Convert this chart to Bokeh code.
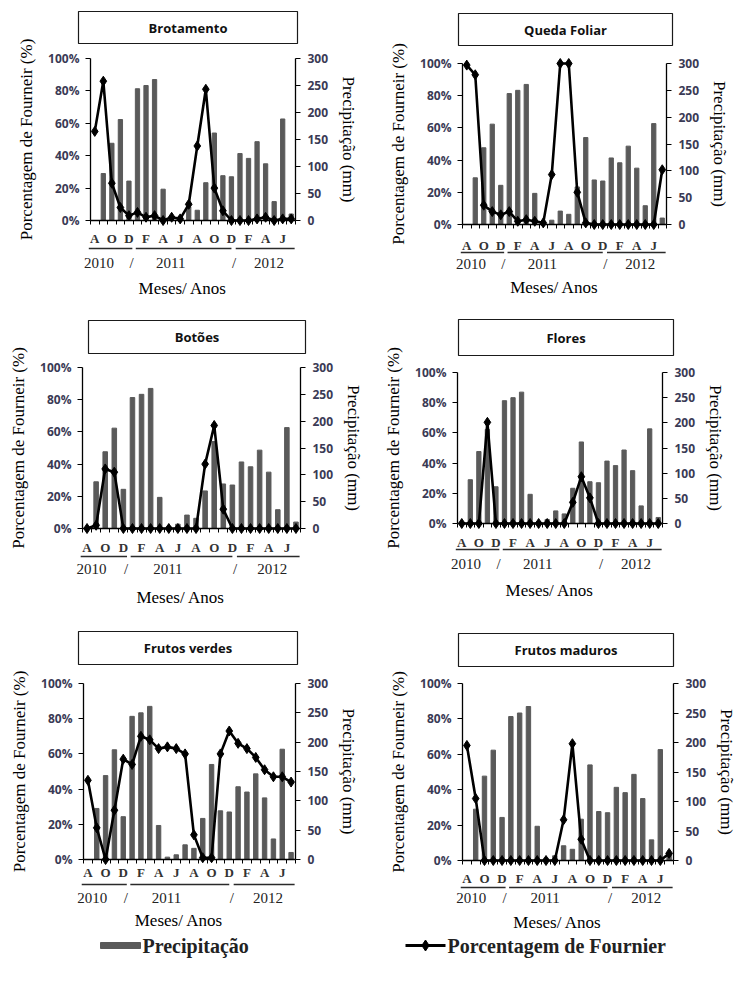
from bokeh.plotting import figure
from bokeh.models import Range1d, LinearAxis, FixedTicker, BoxAnnotation, Label
from bokeh.layouts import column, row
from bokeh.core.properties import value
from bokeh.embed import file_html
from bokeh.resources import INLINE

# ---------------- data ----------------
month_letters = ["A", "S", "O", "N", "D", "J", "F", "M", "A", "M", "J", "J",
                 "A", "S", "O", "N", "D", "J", "F", "M", "A", "M", "J", "J"]
months = list(range(len(month_letters)))

precipitacao = [0, 87, 143, 187, 73, 244, 250, 261, 58, 4, 8, 25,
                19, 70, 162, 83, 81, 124, 115, 146, 105, 35, 188, 12]

brotamento = [55, 86, 23, 8, 3, 5, 2, 3, 0, 2, 1, 10,
              46, 81, 20, 6, 0, 0, 0, 1, 2, 0, 1, 1]
queda_foliar = [99, 93, 12, 8, 6, 8, 2, 3, 2, 1, 31, 100,
                100, 20, 1, 0, 0, 0, 0, 0, 0, 0, 0, 34]
botoes = [0, 2, 37, 35, 0, 0, 0, 0, 0, 0, 0, 0,
          0, 40, 64, 12, 0, 0, 0, 0, 0, 0, 0, 0]
flores = [0, 0, 0, 67, 0, 0, 0, 0, 0, 0, 0, 0,
          0, 14, 31, 17, 0, 0, 0, 0, 0, 0, 0, 0]
frutos_verdes = [45, 18, 0, 28, 57, 54, 70, 68, 63, 64, 63, 60,
                 14, 1, 1, 60, 73, 66, 63, 58, 51, 47, 47, 44]
frutos_maduros = [65, 35, 0, 0, 0, 0, 0, 0, 0, 0, 0, 23,
                  66, 12, 0, 0, 0, 0, 0, 0, 0, 0, 0, 4]

year_labels = ["2010", "/", "2011", "/", "2012"]
year_label_pos = [0.5, 4.3, 8.9, 16.3, 20.4]
year_underlines = [(-0.7, 4.4), (4.8, 16.0), (16.5, 23.4)]

pct_ticks = [0, 20, 40, 60, 80, 100]
pct_labels = ["0%", "20%", "40%", "60%", "80%", "100%"]
mm_ticks = [0, 50, 100, 150, 200, 250, 300]

legend_labels = ["Precipitação", "Porcentagem de Fournier"]

# ---------------- styling / layout ----------------
BAR_COLOR = "#5a5a5a"
TICK_COLOR = "#3a3a55"
SERIF = "Liberation Serif"
SANS = "Open Sans"

# page-pixel geometry: figure origin/size (x, y, w, h),
# axis extents (left, right, top=100%, bottom=0%), title box, vertical offsets below the x axis
panels = [
    ("Brotamento", brotamento,
     dict(fig=(0, 0, 374, 310), axes=(90, 295, 58, 220), box=(78, 11, 297, 43),
          m=18, ul=28, yr=42, ms=68)),
    ("Queda Foliar", queda_foliar,
     dict(fig=(374, 0, 375, 310), axes=(462, 666, 63, 224), box=(458, 13, 672, 45),
          m=21, ul=28, yr=39, ms=63)),
    ("Botões", botoes,
     dict(fig=(0, 310, 374, 315), axes=(82, 300, 367, 528), box=(88, 320, 305, 353),
          m=19, ul=28, yr=40, ms=69)),
    ("Flores", flores,
     dict(fig=(374, 310, 375, 315), axes=(457, 662, 372, 523), box=(458, 319, 673, 355),
          m=19, ul=26, yr=40, ms=67)),
    ("Frutos verdes", frutos_verdes,
     dict(fig=(0, 625, 374, 309), axes=(83, 295, 683, 859), box=(78, 631, 297, 664),
          m=13, ul=25, yr=38, ms=61)),
    ("Frutos maduros", frutos_maduros,
     dict(fig=(374, 625, 375, 309), axes=(462, 673, 683, 860), box=(458, 633, 673, 666),
          m=18, ul=27, yr=37, ms=62)),
]


def make_panel(title, values, cfg):
    ox, oy, fw, fh = cfg["fig"]
    axl, axr, axt, axb = cfg["axes"]
    n = len(months)
    ppx = (axr - axl) / n            # px per month
    ppu = (axb - axt) / 100.0        # px per percent
    x0 = -0.5 - (axl - ox) / ppx
    x1 = x0 + fw / ppx
    y0 = -(oy + fh - axb) / ppu
    y1 = 100 + (axt - oy) / ppu

    def xd(px):
        return -0.5 + (px - axl) / ppx

    def yd(py):
        return (axb - py) / ppu

    p = figure(frame_width=fw, frame_height=fh,
               x_range=Range1d(x0, x1), y_range=Range1d(y0, y1),
               min_border=0, min_border_left=0, min_border_right=0,
               min_border_top=0, min_border_bottom=0,
               output_backend="svg", toolbar_location=None,
               outline_line_color=None, background_fill_color="white",
               border_fill_color="white")
    p.extra_y_ranges = {"mm": Range1d(3 * y0, 3 * y1)}
    p.grid.visible = False

    # bars (precipitation, right axis)
    p.vbar(x=months, top=precipitacao, width=0.5, y_range_name="mm",
           fill_color=BAR_COLOR, line_color=BAR_COLOR)
    # Fournier line
    p.line(months, values, line_color="black", line_width=2.6)
    p.scatter(months, values, marker="diamond", size=10,
              fill_color="black", line_color="black")

    # x axis (months)
    xa = p.xaxis[0]
    xa.fixed_location = 0
    xa.bounds = (-0.5, n - 0.5)
    xa.ticker = FixedTicker(ticks=months, minor_ticks=[i - 0.5 for i in range(n + 1)])
    xa.major_label_overrides = {i: (month_letters[i] if i % 2 == 0 else "") for i in months}
    xa.major_tick_out = 0
    xa.major_tick_in = 0
    xa.minor_tick_out = 4
    xa.minor_tick_in = 0
    xa.minor_tick_line_color = "black"
    xa.axis_line_color = "black"
    xa.axis_line_width = 1.3
    xa.major_label_text_font = SERIF
    xa.major_label_text_font_style = "bold"
    xa.major_label_text_font_size = "13px"
    xa.major_label_text_color = "#333333"
    xa.major_label_standoff = max(int(round(cfg["m"] - 12)), 0)

    # left axis (percent)
    ya = p.yaxis[0]
    ya.fixed_location = -0.5
    ya.ticker = FixedTicker(ticks=pct_ticks, minor_ticks=[])
    ya.major_label_overrides = dict(zip(pct_ticks, pct_labels))
    ya.bounds = (0, 100)
    ya.axis_line_color = "black"
    ya.axis_line_width = 1.3
    ya.major_tick_out = 5
    ya.major_tick_in = 0
    ya.major_tick_line_color = "black"
    ya.major_label_text_font = SANS
    ya.major_label_text_font_style = "bold"
    ya.major_label_text_font_size = "12px"
    ya.major_label_text_color = TICK_COLOR
    ya.major_label_standoff = 6
    ya.axis_label = "Porcentagem de Fourneir (%)"
    ya.axis_label_text_font = SERIF
    ya.axis_label_text_font_style = "normal"
    ya.axis_label_text_font_size = "17px"
    ya.axis_label_text_color = "black"
    ya.axis_label_standoff = 9

    # right axis (precipitation)
    ra = LinearAxis(y_range_name="mm", ticker=FixedTicker(ticks=mm_ticks, minor_ticks=[]),
                    bounds=(0, 300), fixed_location=n - 0.5)
    ra.axis_line_color = "black"
    ra.axis_line_width = 1.3
    ra.major_tick_out = 5
    ra.major_tick_in = 0
    ra.major_tick_line_color = "black"
    ra.major_label_text_font = SANS
    ra.major_label_text_font_style = "bold"
    ra.major_label_text_font_size = "12px"
    ra.major_label_text_color = TICK_COLOR
    ra.major_label_standoff = 7
    ra.axis_label = "Precipitação (mm)"
    ra.axis_label_text_font = SERIF
    ra.axis_label_text_font_style = "normal"
    ra.axis_label_text_font_size = "17px"
    ra.axis_label_text_color = "black"
    ra.axis_label_standoff = 8
    p.add_layout(ra, "right")

    # title box
    bx0, by0, bx1, by1 = cfg["box"]
    p.add_layout(BoxAnnotation(left=xd(bx0), right=xd(bx1), top=yd(by0), bottom=yd(by1),
                               fill_color="white", fill_alpha=1.0,
                               line_color="#1a1a1a", line_alpha=1.0, line_width=1.2))
    p.add_layout(Label(x=xd((bx0 + bx1) / 2), y=yd((by0 + by1) / 2), text=title,
                       text_font=SANS, text_font_style="bold", text_font_size="13px",
                       text_color="#111111", text_align="center", text_baseline="middle"))

    # year group underlines
    yul = yd(axb + cfg["ul"])
    hh = 0.7 / ppu
    for (a, b) in year_underlines:
        p.add_layout(BoxAnnotation(left=a, right=b, top=yul + hh, bottom=yul - hh,
                                   fill_color="#2a2a2a", fill_alpha=1.0, line_alpha=0.0))
    # year labels
    for lab, pos in zip(year_labels, year_label_pos):
        p.add_layout(Label(x=pos, y=yd(axb + cfg["yr"]), text=lab,
                           text_font=SERIF, text_font_size="15px", text_color="#222222",
                           text_align="center", text_baseline="middle"))
    # x axis title
    p.add_layout(Label(x=10.3, y=yd(axb + cfg["ms"]), text="Meses/ Anos",
                       text_font=SERIF, text_font_size="17px", text_color="black",
                       text_align="center", text_baseline="middle"))
    return p


figs = [make_panel(t, v, c) for (t, v, c) in panels]

# legend strip (page y 934..993)
LEG_W, LEG_H = 749, 59
leg = figure(frame_width=LEG_W, frame_height=LEG_H, x_range=Range1d(0, LEG_W), y_range=Range1d(LEG_H, 0),
             x_axis_type=None, y_axis_type=None, min_border=0,
             output_backend="svg", toolbar_location=None, outline_line_color=None)
leg.grid.visible = False
leg.quad(left=[100], right=[140], top=[8], bottom=[14], fill_color=BAR_COLOR, line_color=BAR_COLOR)
leg.text(x=[142], y=[11], text=[legend_labels[0]], text_font=value(SERIF),
         text_font_style="bold", text_font_size="20px", text_color="#222222",
         text_baseline="middle", text_align="left")
leg.line(x=[405, 445], y=[11, 11], line_color="black", line_width=3)
leg.scatter(x=[425], y=[11], marker="diamond", size=11, fill_color="black", line_color="black")
leg.text(x=[447], y=[11], text=[legend_labels[1]], text_font=value(SERIF),
         text_font_style="bold", text_font_size="20px", text_color="#222222",
         text_baseline="middle", text_align="left")

layout = column(row(figs[0], figs[1]), row(figs[2], figs[3]), row(figs[4], figs[5]), leg)

open("out.html", "w").write(file_html(layout, INLINE))
